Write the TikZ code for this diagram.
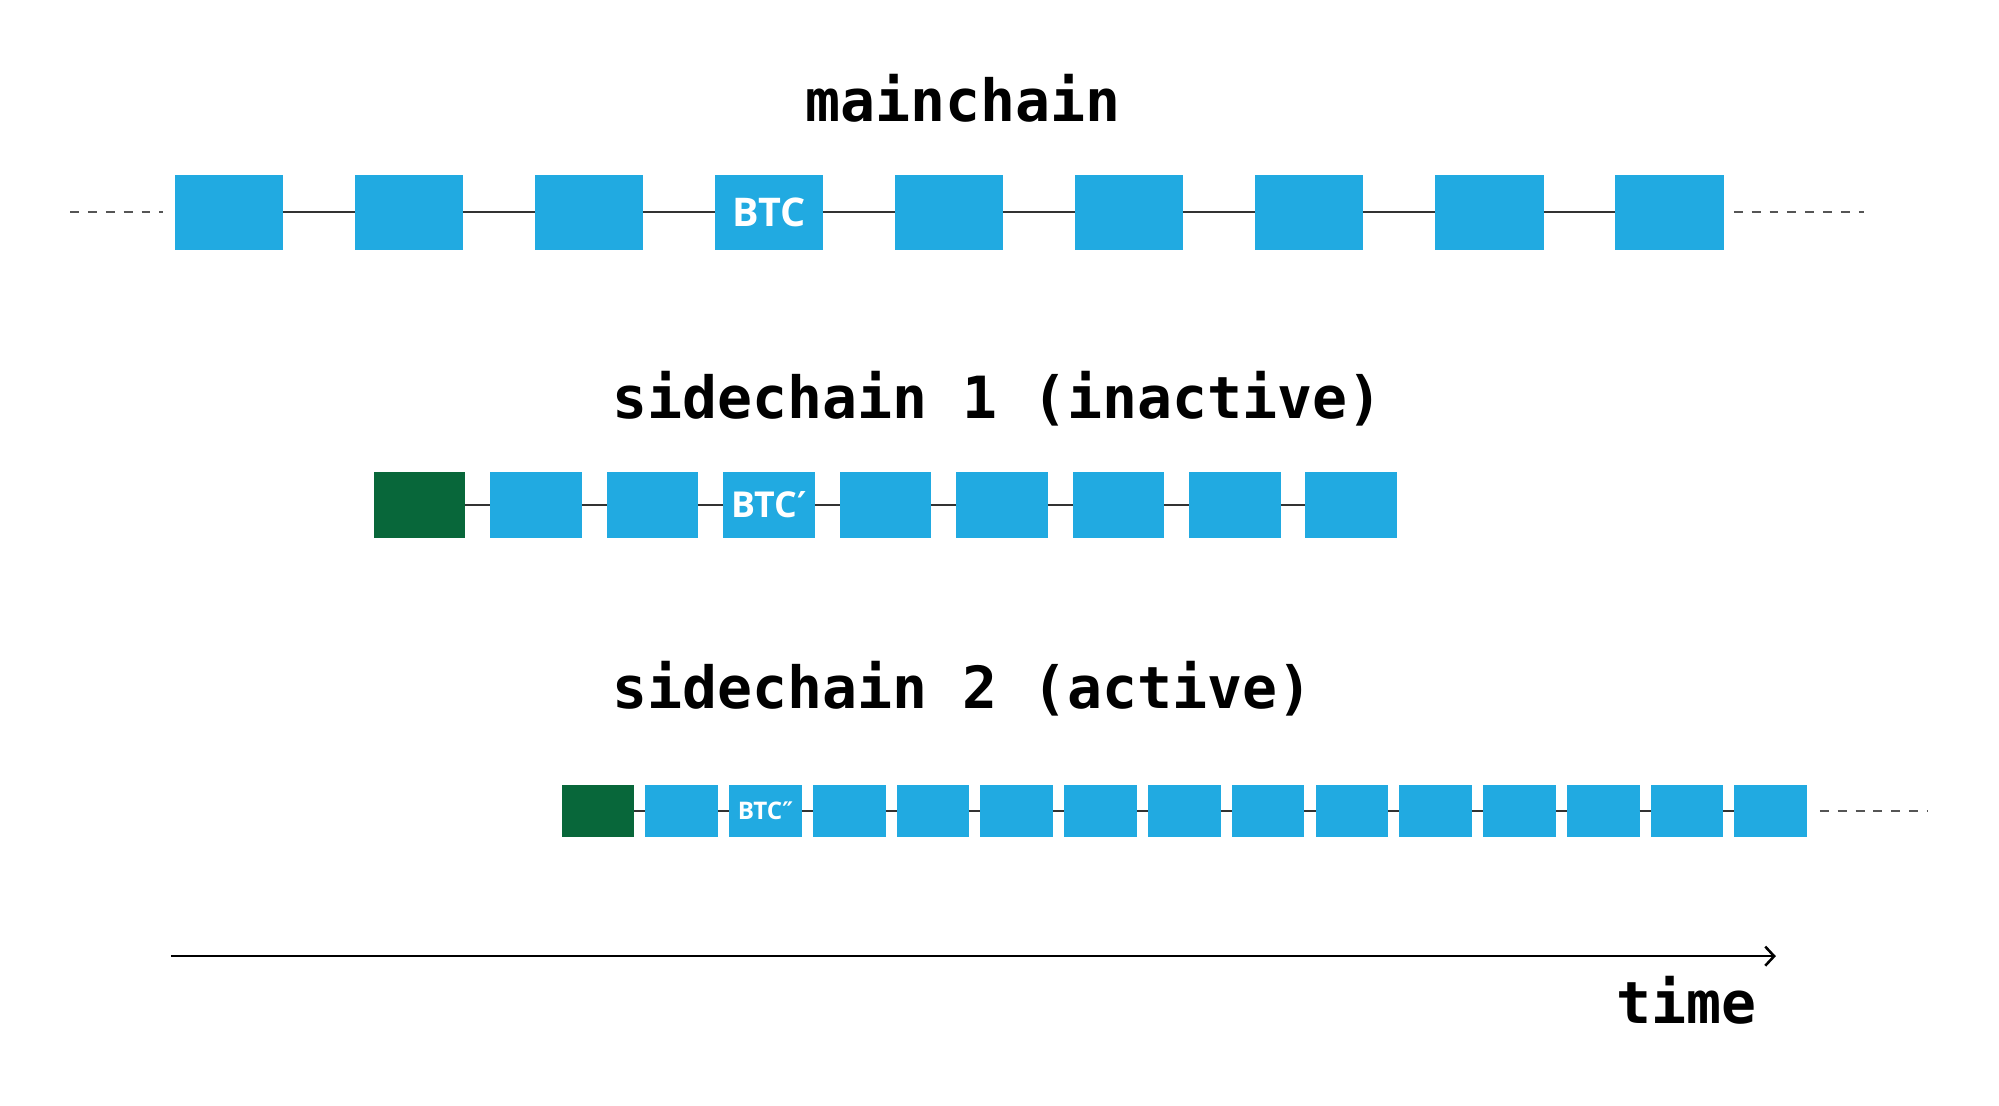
\documentclass[tikz,border=0pt]{standalone}
\usepackage{fontspec}
\newfontfamily\titlefont{DejaVu Sans Mono}
\newfontfamily\blockfont{Open Sans}
\newfontfamily\primefont{DejaVu Sans}
\usetikzlibrary{arrows.meta}
\definecolor{cblue}{HTML}{21AAE1}
\definecolor{cgreen}{HTML}{08673A}
\definecolor{cline}{HTML}{333333}
\definecolor{cdash}{HTML}{555555}
\begin{document}
\begin{tikzpicture}[x=1pt,y=-1pt,
  blk/.style={fill=cblue, inner sep=0pt, outer sep=0pt, text=white},
  gen/.style={fill=cgreen, inner sep=0pt, outer sep=0pt},
  mainblk/.style={minimum width=85pt, minimum height=59pt},
  sideoneblk/.style={minimum width=72pt, minimum height=52pt},
  sidetwoblk/.style={minimum width=57pt, minimum height=41pt},
  title/.style={font=\titlefont\bfseries\fontsize{45.6}{54}\selectfont, anchor=base, text=black, inner sep=0pt},
  link/.style={draw=cline, line width=1.5pt},
  dashlink/.style={draw=cdash, line width=1.5pt, dash pattern=on 7pt off 7pt}]
\useasboundingbox (0,0) rectangle (1568,867.5);

% titles
\node[title] (tmain) at (755,95) {mainchain};
\node[title] (tside1) at (782.5,328) {sidechain 1 (inactive)};
\node[title] (tside2) at (755,556) {sidechain 2 (active)};

% mainchain
\foreach \i/\t in {0/,1/,2/,3/BTC,4/,5/,6/,7/,8/}
  \node[blk, mainblk, font=\blockfont\bfseries\fontsize{31}{36}\selectfont] (m\i) at ({179.5+141.25*\i},166.5) {\t};
\foreach \i [count=\j from 1] in {0,...,7}
  \draw[link] (m\i) -- (m\j);
\coordinate (ml) at (55,166.5);
\coordinate (mr) at (1462,166.5);
\draw[dashlink] (ml) -- ([xshift=-9pt]m0.west);
\draw[dashlink] ([xshift=8pt]m8.east) -- (mr);

% sidechain 1
\node[gen, sideoneblk] (a0) at (329,396) {};
\foreach \i/\t in {1/,2/,3/{BTC{\primefont\bfseries′}},4/,5/,6/,7/,8/}
  \node[blk, sideoneblk, font=\blockfont\bfseries\fontsize{28}{32}\selectfont] (a\i) at ({329+91.375*\i},396) {\t};
\foreach \i [count=\j from 1] in {0,...,7}
  \draw[link] (a\i) -- (a\j);

% sidechain 2
\node[gen, sidetwoblk] (b0) at (469,636) {};
\foreach \i/\t in {1/,2/{BTC{\primefont\bfseries″}},3/,4/,5/,6/,7/,8/,9/,10/,11/,12/,13/,14/}
  \node[blk, sidetwoblk, font=\blockfont\bfseries\fontsize{19}{22}\selectfont] (b\i) at ({469+65.714*\i},636) {\t};
\foreach \i [count=\j from 1] in {0,...,13}
  \draw[link] (b\i) -- (b\j);
\coordinate (br) at (1512,636);
\draw[dashlink] ([xshift=10pt]b14.east) -- (br);

% time axis
\coordinate (t0) at (134,750);
\coordinate (t1) at (1393,750);
\draw[line width=2pt, -{Straight Barb[length=7pt, width=15pt, line width=2pt]}] (t0) -- (t1);
\node[title] (ttime) at (1323,803) {time};
\end{tikzpicture}
\end{document}
